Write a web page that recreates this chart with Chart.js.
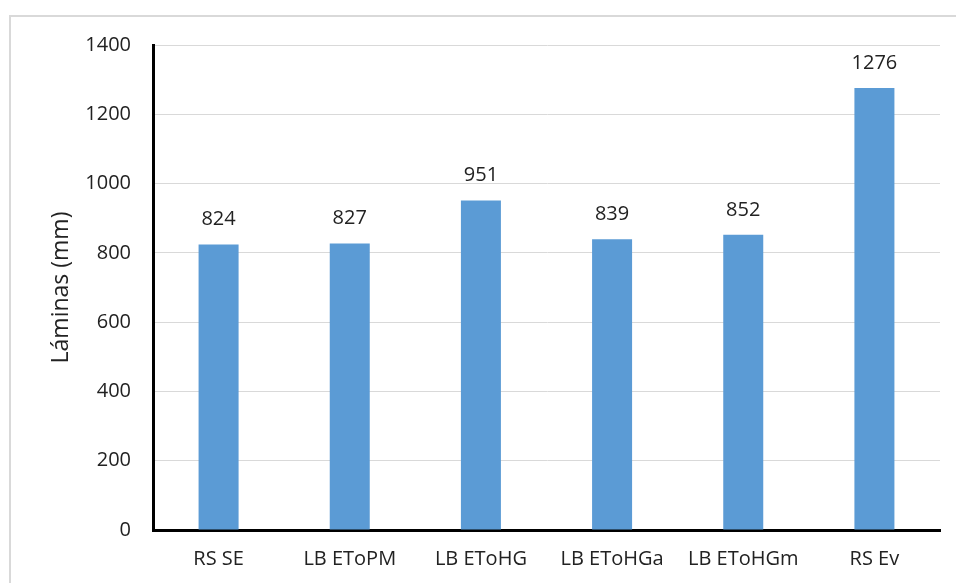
<!DOCTYPE html>
<html>
<head>
<meta charset="utf-8">
<script src="https://cdn.jsdelivr.net/npm/chart.js@4.4.1/dist/chart.umd.min.js"></script>
<style>
  html, body { margin: 0; padding: 0; background: #fff; }
  #wrap { width: 956px; height: 583px; position: relative; }
</style>
</head>
<body>
<div id="wrap"><canvas id="chart" width="956" height="583"></canvas></div>
<script>
// ── Data ──────────────────────────────────────────────────
const categories = ['RS SE', 'LB EToPM', 'LB EToHG', 'LB EToHGa', 'LB EToHGm', 'RS Ev'];
const laminas    = [824, 827, 951, 839, 852, 1276];
const yTicks     = [0, 200, 400, 600, 800, 1000, 1200, 1400];

const FONT = "'Open Sans', sans-serif";
const TEXT = '#222222';

// light grey frame around the whole chart
const framePlugin = {
  id: 'frame',
  beforeDraw(chart) {
    const { ctx } = chart;
    ctx.save();
    ctx.strokeStyle = '#d9d9d9';
    ctx.lineWidth = 2;
    ctx.beginPath();
    ctx.moveTo(10, 590);
    ctx.lineTo(10, 16);
    ctx.lineTo(960, 16);
    ctx.stroke();
    ctx.restore();
  },
};

// value written above each bar
const valueLabels = {
  id: 'valueLabels',
  afterDatasetsDraw(chart) {
    const { ctx } = chart;
    const meta = chart.getDatasetMeta(0);
    ctx.save();
    ctx.fillStyle = TEXT;
    ctx.font = `20px ${FONT}`;
    ctx.textAlign = 'center';
    ctx.textBaseline = 'middle';
    meta.data.forEach((bar, i) => {
      ctx.fillText(String(laminas[i]), bar.x, bar.y - 25);
    });
    ctx.restore();
  },
};

new Chart(document.getElementById('chart'), {
  type: 'bar',
  data: {
    labels: categories,
    datasets: [{
      data: laminas,
      backgroundColor: '#5b9bd5',
      borderWidth: 0,
      barPercentage: 0.61,
      categoryPercentage: 0.5,
    }],
  },
  options: {
    responsive: false,
    animation: false,
    layout: { padding: { top: 45, right: 16, left: 0, bottom: 0 } },
    plugins: { legend: { display: false }, tooltip: { enabled: false } },
    scales: {
      x: {
        grid: { display: false, drawTicks: false },
        border: { display: true, color: '#000', width: 3 },
        ticks: { color: TEXT, font: { family: FONT, size: 20 }, padding: 17, maxRotation: 0 },
        afterFit(scale) { scale.height = 53; },
      },
      y: {
        min: 0,
        max: 1400,
        afterBuildTicks(scale) { scale.ticks = yTicks.map(v => ({ value: v })); },
        grid: { color: '#d9d9d9', lineWidth: 1, drawTicks: false },
        border: { display: true, color: '#000', width: 3 },
        ticks: {
          color: TEXT,
          font: { family: FONT, size: 20 },
          padding: 22,
          callback: v => String(v),
        },
        title: {
          display: true,
          text: 'Láminas (mm)',
          color: TEXT,
          font: { family: FONT, size: 23 },
          padding: { top: 48, bottom: 0 },
        },
        afterFit(scale) { scale.width = 153; },
      },
    },
  },
  plugins: [framePlugin, valueLabels],
});
</script>
</body>
</html>
